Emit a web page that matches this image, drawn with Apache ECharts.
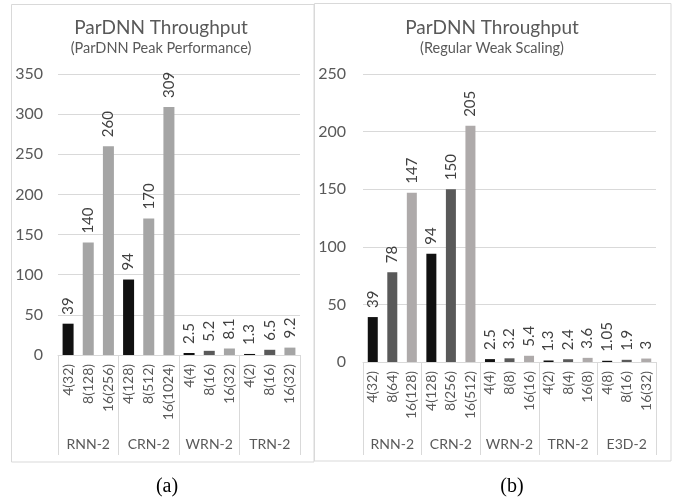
<!DOCTYPE html>
<html><head><meta charset="utf-8">
<script src="https://cdn.jsdelivr.net/npm/echarts@6/dist/echarts.min.js"></script>
<style>html,body{margin:0;padding:0;background:#fff}#c{width:684px;height:500px}</style>
</head><body><div id="c"></div>
<script>
// ---- data ----
const groupsA = ['RNN-2', 'CRN-2', 'WRN-2', 'TRN-2'];
const configsA = ['4(32)', '8(128)', '16(256)', '4(128)', '8(512)', '16(1024)', '4(4)', '8(16)', '16(32)', '4(2)', '8(16)', '16(32)'];
const valuesA = [39, 140, 260, 94, 170, 309, 2.5, 5.2, 8.1, 1.3, 6.5, 9.2];
const yTicksA = [0, 50, 100, 150, 200, 250, 300, 350];

const groupsB = ['RNN-2', 'CRN-2', 'WRN-2', 'TRN-2', 'E3D-2'];
const configsB = ['4(32)', '8(64)', '16(128)', '4(128)', '8(256)', '16(512)', '4(4)', '8(8)', '16(16)', '4(2)', '8(4)', '16(8)', '4(8)', '8(16)', '16(32)'];
const valuesB = [39, 78, 147, 94, 150, 205, 2.5, 3.2, 5.4, 1.3, 2.4, 3.6, 1.05, 1.9, 3];
const yTicksB = [0, 50, 100, 150, 200, 250];

// ---- styles ----
const BLACK = '#111111', DARK = '#595959', LIGHT_A = '#a5a5a5', LIGHT_B = '#aeaaaa';
const colorsA = [BLACK, LIGHT_A, LIGHT_A, BLACK, LIGHT_A, LIGHT_A, BLACK, DARK, LIGHT_A, BLACK, DARK, LIGHT_A];
const colorsB = configsB.map((c, i) => [BLACK, DARK, LIGHT_B][i % 3]);
const FONT = 'Lato';
const GRID_COL = '#d9d9d9';
const TXT = '#595959';

function yAxis(gi, ticks, margin) {
  return {
    gridIndex: gi, type: 'value', min: ticks[0], max: ticks[ticks.length - 1],
    interval: ticks[1] - ticks[0],
    axisLine: {show: false}, axisTick: {show: false},
    splitLine: {lineStyle: {color: GRID_COL, width: 1}},
    axisLabel: {color: TXT, fontFamily: FONT, fontSize: 16, margin: margin}
  };
}
function subAxis(gi, cats) {
  return {
    gridIndex: gi, type: 'category', data: cats, position: 'bottom',
    axisLine: {lineStyle: {color: GRID_COL}}, axisTick: {show: false},
    axisLabel: {rotate: 90, interval: 0, color: TXT, fontFamily: FONT, fontSize: 14, margin: 9}
  };
}
function groupAxis(gi, groups, tickLen, margin) {
  return {
    gridIndex: gi, type: 'category', data: groups, position: 'bottom',
    axisLine: {show: false},
    axisTick: {show: true, length: tickLen, lineStyle: {color: GRID_COL}},
    axisLabel: {interval: 0, color: TXT, fontFamily: FONT, fontSize: 14, margin: margin}
  };
}
function barSeries(idx, values, colors, width) {
  return {
    type: 'bar', xAxisIndex: idx * 2, yAxisIndex: idx, barWidth: width,
    data: values.map((v, i) => ({value: v, itemStyle: {color: colors[i]}})),
    label: {show: true, position: 'top', rotate: 90, align: 'left', verticalAlign: 'middle',
      distance: 9, color: '#404040', fontFamily: FONT, fontSize: 15},
    animation: false
  };
}

const chart = echarts.init(document.getElementById('c'), null, {renderer: 'canvas'});
chart.setOption({
  backgroundColor: '#fff',
  animation: false,
  grid: [
    {left: 58, top: 74, width: 242, height: 281},
    {left: 363, top: 74, width: 293, height: 288}
  ],
  xAxis: [
    subAxis(0, configsA), groupAxis(0, groupsA, 100, 82),
    subAxis(1, configsB), groupAxis(1, groupsB, 93, 75)
  ],
  yAxis: [yAxis(0, yTicksA, 15), yAxis(1, yTicksB, 17)],
  series: [barSeries(0, valuesA, colorsA, 11), barSeries(1, valuesB, colorsB, 10)],
  graphic: [
    {type: 'rect', shape: {x: 11.5, y: 4.5, width: 302.5, height: 457.5}, style: {fill: 'none', stroke: GRID_COL, lineWidth: 1}, z: -1},
    {type: 'rect', shape: {x: 314.5, y: 3.5, width: 356.5, height: 457.5}, style: {fill: 'none', stroke: GRID_COL, lineWidth: 1}, z: -1},
    {type: 'text', x: 161, y: 28, style: {text: 'ParDNN Throughput', fill: TXT, font: '19px ' + FONT, textAlign: 'center', textVerticalAlign: 'middle'}},
    {type: 'text', x: 161, y: 48, style: {text: '(ParDNN Peak Performance)', fill: TXT, font: '14.5px ' + FONT, textAlign: 'center', textVerticalAlign: 'middle'}},
    {type: 'text', x: 492, y: 28, style: {text: 'ParDNN Throughput', fill: TXT, font: '19px ' + FONT, textAlign: 'center', textVerticalAlign: 'middle'}},
    {type: 'text', x: 492, y: 48, style: {text: '(Regular Weak Scaling)', fill: TXT, font: '14.5px ' + FONT, textAlign: 'center', textVerticalAlign: 'middle'}},
    {type: 'text', x: 167, y: 487, style: {text: '(a)', fill: '#000', font: '20px "Liberation Serif"', textAlign: 'center', textVerticalAlign: 'middle'}},
    {type: 'text', x: 512, y: 487, style: {text: '(b)', fill: '#000', font: '20px "Liberation Serif"', textAlign: 'center', textVerticalAlign: 'middle'}}
  ]
});
</script></body></html>
